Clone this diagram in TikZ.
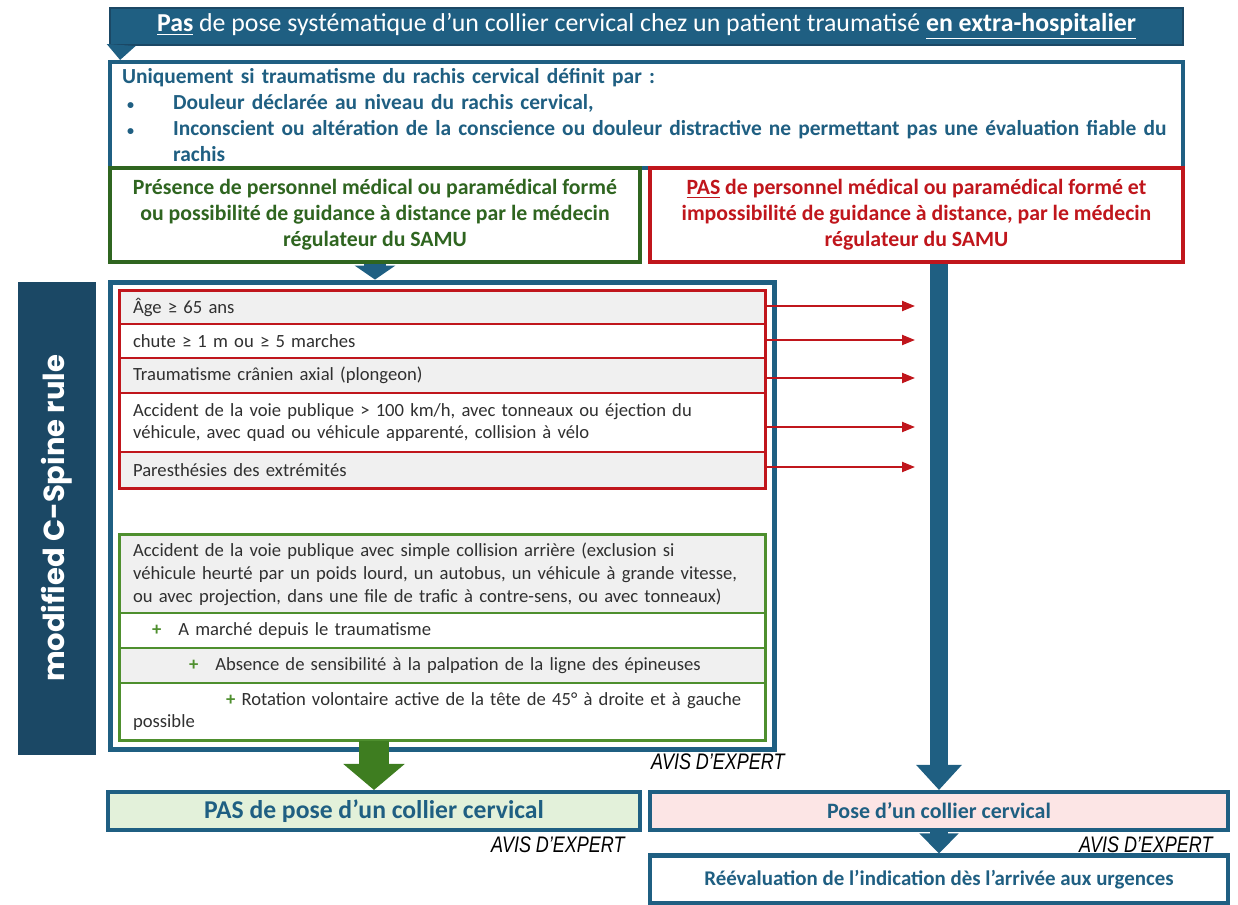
\documentclass[tikz,border=0pt]{standalone}
\usepackage{fontspec}
\setmainfont{Carlito}
\newfontfamily\sidefont{Poppins}
\newfontfamily\expertfont[FakeStretch=0.8]{Liberation Sans}
\usetikzlibrary{arrows.meta, positioning, fit}
\definecolor{navy}{HTML}{1F5F82}
\definecolor{deepnavy}{HTML}{1B4865}
\definecolor{darkgreen}{HTML}{2F6520}
\definecolor{leafgreen}{HTML}{4E8F2E}
\definecolor{arrowgreen}{HTML}{3E7D20}
\definecolor{critred}{HTML}{C0161C}
\definecolor{rowgray}{HTML}{F0F0F0}
\definecolor{palegreen}{HTML}{E3F1DA}
\definecolor{palepink}{HTML}{FCE5E5}
\definecolor{textgray}{HTML}{303030}

\begin{document}
\begin{tikzpicture}[
    x=0.02cm, y=-0.02cm,
    every node/.style={font=\fontsize{11}{14.7}\selectfont},
    banner/.style={rectangle, draw=deepnavy, fill=navy, line width=1.2pt, text=white, minimum width=21.46cm, minimum height=0.74cm, font=\fontsize{14.7}{17}\selectfont},
    critbox/.style={rectangle, draw=navy, fill=white, line width=2.3pt, minimum width=21.46cm, minimum height=2.12cm, text width=20.98cm, inner xsep=0.24cm, align=left, text=navy, font=\fontsize{12.2}{14.7}\selectfont\bfseries},
    cond/.style={rectangle, fill=white, line width=2.3pt, minimum height=1.88cm, align=center, font=\fontsize{12.4}{14.8}\selectfont\bfseries},
    frame/.style={rectangle, draw=navy, line width=2.8pt, minimum width=13.3cm, minimum height=9.36cm},
    sidelabel/.style={rectangle, fill=deepnavy, text=white, rotate=90, minimum width=9.46cm, minimum height=1.56cm, font=\sidefont\bfseries\fontsize{16.5}{19}\selectfont},
    row/.style={rectangle, line width=1pt, minimum width=12.9cm, text width=12.38cm, inner xsep=0.26cm, inner ysep=0pt, align=left, text=textgray, font=\fontsize{10.6}{13}\selectfont},
    redrow/.style={row, draw=critred},
    greenrow/.style={row, draw=leafgreen},
    outcome/.style={rectangle, draw=navy, line width=2.3pt, minimum height=0.76cm, text=navy, font=\fontsize{12.5}{14}\selectfont\bfseries},
    expert/.style={font=\expertfont\itshape\fontsize{12.8}{14}\selectfont, inner sep=0pt},
    bluearrow/.style={draw=navy, line width=0.36cm},
    redarrow/.style={-{Triangle[width=0.2cm,length=0.26cm]}, draw=critred, line width=1.2pt}
]
\useasboundingbox (0,0) rectangle (1238,905);

% Header and inclusion criteria
\node[banner] (banner) at (646.5,26.5) {\underline{\textbf{Pas}} de pose systématique d’un collier cervical chez un patient traumatisé \underline{\textbf{en extra-hospitalier}}};
\node[critbox] (crit) at (646.5,115) {Uniquement si traumatisme du rachis cervical définit par :\\
\makebox[1.02cm][l]{\hspace{0.1cm}{\footnotesize\textbullet}}Douleur déclarée au niveau du rachis cervical,\\
\makebox[1.02cm][l]{\hspace{0.1cm}{\footnotesize\textbullet}}\parbox[t]{19.9cm}{Inconscient ou altération de la conscience ou douleur distractive ne permettant pas une évaluation fiable du\\rachis}};

% Conditions
\node[cond, draw=darkgreen, text=darkgreen, minimum width=10.6cm] (withstaff) at (375,215) {Présence de personnel médical ou paramédical formé\\ou possibilité de guidance à distance par le médecin\\régulateur du SAMU};
\node[cond, draw=critred, text=critred, minimum width=10.66cm] (nostaff) at (916.5,215) {\underline{PAS} de personnel médical ou paramédical formé et\\impossibilité de guidance à distance, par le médecin\\régulateur du SAMU};

% modified C-Spine rule
\node[sidelabel] (side) at (57,518.5) {modified C-Spine rule};
\node[frame] (frame) at (442.5,516) {};

\node[redrow, fill=rowgray, minimum height=0.66cm] (r1) at (442.5,307.5) {Âge ≥ 65 ans};
\node[redrow, fill=white, minimum height=0.68cm] (r2) at (442.5,341) {chute ≥ 1 m ou ≥ 5 marches};
\node[redrow, fill=rowgray, minimum height=0.70cm] (r3) at (442.5,375.5) {Traumatisme crânien axial (plongeon)};
\node[redrow, fill=white, minimum height=1.18cm] (r4) at (442.5,422.5) {Accident de la voie publique > 100 km/h, avec tonneaux ou éjection du\\véhicule, avec quad ou véhicule apparenté, collision à vélo};
\node[redrow, fill=rowgray, minimum height=0.72cm] (r5) at (442.5,470) {Paresthésies des extrémités};
\node[fit=(r1)(r5), inner sep=0pt, draw=critred, line width=1.8pt] (redset) {};

\node[greenrow, fill=rowgray, minimum height=1.56cm] (g1) at (442.5,574) {Accident de la voie publique avec simple collision arrière (exclusion si\\véhicule heurté par un poids lourd, un autobus, un véhicule à grande vitesse,\\ou avec projection, dans une file de trafic à contre-sens, ou avec tonneaux)};
\node[greenrow, fill=white, minimum height=0.70cm] (g2) at (442.5,630.5) {\hspace*{0.38cm}{\color{leafgreen}\textbf{+}}\hspace{0.34cm}A marché depuis le traumatisme};
\node[greenrow, fill=rowgray, minimum height=0.70cm] (g3) at (442.5,665.5) {\hspace*{1.12cm}{\color{leafgreen}\textbf{+}}\hspace{0.34cm}Absence de sensibilité à la palpation de la ligne des épineuses};
\node[greenrow, fill=white, minimum height=1.14cm] (g4) at (442.5,711.5) {\hspace*{1.86cm}{\color{leafgreen}\textbf{+}} Rotation volontaire active de la tête de 45° à droite et à gauche\\possible};
\node[fit=(g1)(g4), inner sep=0pt, draw=leafgreen, line width=1.4pt] (greenset) {};

\node[expert, anchor=east] (expert1) at (785,762) {AVIS D’EXPERT};

% Outcomes
\node[outcome, fill=palegreen, minimum width=10.64cm, font=\fontsize{14.6}{17}\selectfont\bfseries] (nocollar) at (374,811) {PAS de pose d’un collier cervical};
\node[outcome, fill=palepink, minimum width=11.56cm] (collar) at (939,811) {Pose d’un collier cervical};
\node[outcome, fill=white, minimum width=11.56cm, minimum height=0.96cm, font=\fontsize{11.9}{14}\selectfont\bfseries] (reeval) at (939,879.5) {Réévaluation de l’indication dès l’arrivée aux urgences};
\node[expert, anchor=east] (expert2) at (625,845) {AVIS D’EXPERT};
\node[expert, anchor=east] (expert3) at (1213,845) {AVIS D’EXPERT};

% Flows
\draw[bluearrow, line width=0.3cm, -{Triangle[width=0.56cm,length=0.3cm]}] ([xshift=0.24cm]banner.south west) -- ([xshift=0.24cm]crit.north west);
\draw[bluearrow, line width=0.44cm, -{Triangle[width=0.8cm,length=0.28cm]}] (withstaff.south) -- (withstaff.south |- frame.north);
\draw[bluearrow, -{Triangle[width=0.88cm,length=0.5cm]}] (nostaff.south -| collar.north) -- (collar.north);
\draw[draw=arrowgreen, line width=0.6cm, -{Triangle[width=1.2cm,length=0.52cm]}] (g4.south -| nocollar.north) -- (nocollar.north);
\draw[bluearrow, -{Triangle[width=0.76cm,length=0.4cm]}] (collar.south) -- (reeval.north);

\coordinate (redtip) at (915,0);
\foreach \r/\dy in {r1/-1.5, r2/-1, r3/2.5, r4/4.5, r5/-3}
  \draw[redarrow] ([yshift=-\dy*0.02cm]\r.east) -- ([yshift=-\dy*0.02cm]\r.east -| redtip);
\end{tikzpicture}
\end{document}
